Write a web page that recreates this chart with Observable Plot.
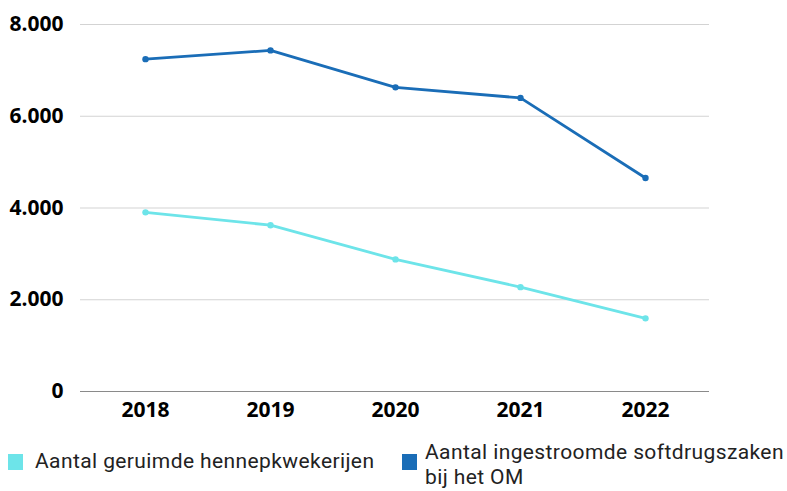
<!DOCTYPE html>
<html>
<head>
<meta charset="utf-8">
<script src="https://cdn.jsdelivr.net/npm/d3@7"></script>
<script src="https://cdn.jsdelivr.net/npm/@observablehq/plot@0.6"></script>
<style>
  body { margin: 0; background: #fff; }
  #wrap { position: relative; width: 787px; height: 491px; overflow: hidden; }
  #legend { position: absolute; left: 0; top: 0; width: 787px; height: 491px; pointer-events: none;
            font-family: Roboto, sans-serif; font-size: 21px; color: #222; letter-spacing: 0.4px; }
  .sw { position: absolute; width: 15px; height: 16px; }
  .lt { position: absolute; line-height: 25px; white-space: nowrap; }
</style>
</head>
<body>
<div id="wrap"><div id="chart"></div><div id="legend"></div></div>
<script>
const years = ["2018", "2019", "2020", "2021", "2022"];
const seriesNames = ["Aantal geruimde hennepkwekerijen", "Aantal ingestroomde softdrugszaken bij het OM"];
const hennep = [3905, 3625, 2880, 2275, 1595];
const softdrugs = [7245, 7435, 6630, 6400, 4655];
const colors = ["#6de4e9", "#1a6db7"];
const yTicks = [0, 2000, 4000, 6000, 8000];

const data = [];
years.forEach((y, i) => {
  data.push({year: y, value: hennep[i], series: seriesNames[0]});
  data.push({year: y, value: softdrugs[i], series: seriesNames[1]});
});

const fmt = d => d3.format(",")(d).replace(/,/g, ".");

const chart = Plot.plot({
  width: 787,
  height: 430,
  marginLeft: 80,
  marginRight: 78,
  marginTop: 24,
  marginBottom: 39,
  style: {fontFamily: "Open Sans, sans-serif", background: "#fff"},
  x: {type: "point", domain: years, padding: 0.5, label: null},
  y: {domain: [0, 8000], label: null},
  color: {domain: seriesNames, range: colors},
  marks: [
    Plot.ruleY(yTicks.filter(d => d > 0), {stroke: "#d3d3d3", strokeWidth: 1}),
    Plot.ruleY([0], {stroke: "#8a8a8a", strokeWidth: 1}),
    Plot.axisY({ticks: yTicks, tickSize: 0, tickPadding: 17, tickFormat: fmt, fontSize: 21, fontWeight: "bold", fill: "#000", label: null}),
    Plot.axisX({tickSize: 0, tickPadding: 11, fontSize: 21, fontWeight: "bold", fill: "#000", label: null}),
    Plot.line(data, {x: "year", y: "value", z: "series", stroke: "series", strokeWidth: 2.8}),
    Plot.dot(data, {x: "year", y: "value", fill: "series", r: 3.2})
  ]
});
document.getElementById("chart").appendChild(chart);

// wrap legend labels to a max width using canvas text measurement
const ctx = document.createElement("canvas").getContext("2d");
ctx.font = '21px Roboto, sans-serif';
if ("letterSpacing" in ctx) ctx.letterSpacing = "0.4px";
function wrap(text, maxW) {
  const words = text.split(" ");
  const lines = [];
  let cur = "";
  for (const w of words) {
    const test = cur ? cur + " " + w : w;
    if (cur && ctx.measureText(test).width > maxW) { lines.push(cur); cur = w; }
    else cur = test;
  }
  if (cur) lines.push(cur);
  return lines;
}

const legend = document.getElementById("legend");
const items = [
  {sx: 8, sy: 454, tx: 35, ty: 449, w: 370},
  {sx: 402, sy: 454, tx: 425, ty: 440, w: 362}
];
const lineGap = 25;
seriesNames.forEach((name, i) => {
  const it = items[i];
  const sw = document.createElement("div");
  sw.className = "sw";
  sw.style.left = it.sx + "px"; sw.style.top = it.sy + "px"; sw.style.background = colors[i];
  legend.appendChild(sw);
  wrap(name, it.w).forEach((line, j) => {
    const t = document.createElement("div");
    t.className = "lt";
    t.style.left = it.tx + "px"; t.style.top = (it.ty + j * lineGap) + "px";
    t.textContent = line;
    legend.appendChild(t);
  });
});
</script>
</body>
</html>
